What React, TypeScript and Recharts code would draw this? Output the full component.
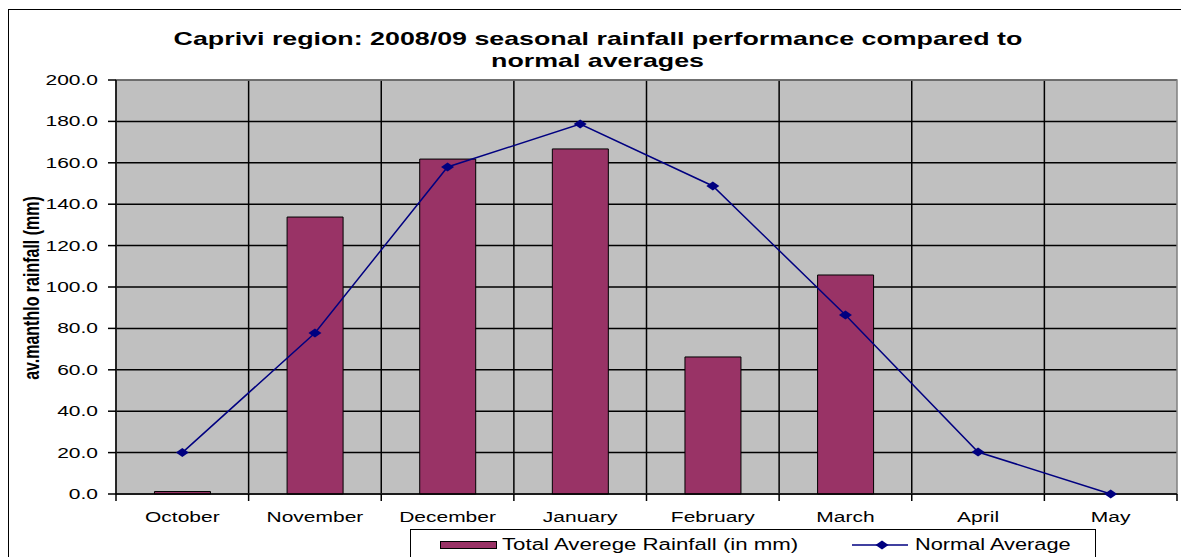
import React from 'react';
import { ComposedChart, Bar, Line, XAxis, YAxis, CartesianGrid, ReferenceArea } from 'recharts';

// Caprivi region rainfall, 2008/09 season
const months = ['October', 'November', 'December', 'January', 'February', 'March', 'April', 'May'];
const totalRain = [1.2, 133.8, 161.8, 166.7, 66.2, 105.8, null, null];
const normalAvg = [20.0, 77.8, 158.0, 178.7, 148.8, 86.5, 20.3, 0];
const yTicks = [0, 20, 40, 60, 80, 100, 120, 140, 160, 180, 200];

const data = months.map((m, i) => ({ month: m, total: totalRain[i], normal: normalAvg[i] }));

const FONT = '"Liberation Sans", Arial, sans-serif';
const STRETCH = 1.4; // the source image is stretched horizontally, text looks wide
const BAR = '#993366';
const NAVY = '#000080';

const W = 1173;
const H = 549;
const M = { top: 72, right: 4, left: 0, bottom: 33 };
const Y_W = 108;
const X_H = 30;
const PLOT_BOTTOM = H - M.bottom - X_H;
const BAND = (W - M.right - M.left - Y_W) / months.length;

const XTick = (props: any) => {
  const { x, payload, index } = props;
  const half = BAND / 2;
  return (
    <g>
      <line x1={x - half} x2={x - half} y1={PLOT_BOTTOM} y2={PLOT_BOTTOM + 7} stroke="#000" strokeWidth={1.5} />
      {index === months.length - 1 && (
        <line x1={x + half} x2={x + half} y1={PLOT_BOTTOM} y2={PLOT_BOTTOM + 7} stroke="#000" strokeWidth={1.5} />
      )}
      <text
        transform={`translate(${x},${PLOT_BOTTOM + 28}) scale(${STRETCH},1)`}
        textAnchor="middle"
        fontSize={15}
        fontFamily={FONT}
        fill="#000"
      >
        {payload.value}
      </text>
    </g>
  );
};

const YTick = (props: any) => {
  const { x, y, payload } = props;
  return (
    <text
      transform={`translate(${x},${y}) scale(${STRETCH},1)`}
      textAnchor="end"
      dy={5}
      fontSize={15}
      fontFamily={FONT}
      fill="#000"
    >
      {Number(payload.value).toFixed(1)}
    </text>
  );
};

const Diamond = (props: any) => {
  const { cx, cy, index } = props;
  if (cx == null || cy == null) return <g key={index} />;
  return (
    <polygon
      key={index}
      points={`${cx},${cy - 4.5} ${cx + 6.5},${cy} ${cx},${cy + 4.5} ${cx - 6.5},${cy}`}
      fill={NAVY}
    />
  );
};

const wide = (origin: string, k = STRETCH): React.CSSProperties => ({
  display: 'inline-block',
  transform: `scaleX(${k})`,
  transformOrigin: origin,
  whiteSpace: 'nowrap',
});

const titleRow: React.CSSProperties = {
  position: 'absolute', left: 0, width: 1180, textAlign: 'center', fontSize: 19, fontWeight: 700, lineHeight: '22px',
};

export default function App() {
  return (
    // fixed to the viewport so nothing scrolls; the frame runs off the right/bottom edge like the source
    <div style={{ position: 'fixed', left: 0, top: 0, width: 1181, height: 557, overflow: 'hidden', background: '#fff' }}>
      <div style={{ position: 'absolute', left: 8, top: 8, width: W, height: H, fontFamily: FONT }}>
        <div
          style={{
            position: 'absolute', left: 0, top: 1, width: 1200, height: 600,
            borderTop: '1.5px solid #000', borderLeft: '1.5px solid #000',
          }}
        />

        <div style={{ ...titleRow, top: 20 }}>
          <span style={wide('center', 1.41)}>Caprivi region: 2008/09 seasonal rainfall performance compared to</span>
        </div>
        <div style={{ ...titleRow, top: 42 }}>
          <span style={wide('center', 1.41)}>normal averages</span>
        </div>

        <div
          style={{
            position: 'absolute', left: 24, top: 280, fontSize: 16, fontWeight: 700, whiteSpace: 'nowrap',
            transform: `translate(-50%,-50%) scaleX(${STRETCH}) rotate(-90deg)`,
          }}
        >
          av.manthlo rainfall (mm)
        </div>

        <div style={{ position: 'absolute', left: 0, top: 0 }}>
          <ComposedChart width={W} height={H} data={data} margin={M} barCategoryGap="29%">
            <CartesianGrid
              stroke="#000"
              strokeWidth={1.5}
              fill="#C0C0C0"
              fillOpacity={1}
              verticalCoordinatesGenerator={({ offset }: any) =>
                [1, 2, 3, 4, 5, 6, 7].map(i => offset.left + (i * offset.width) / months.length)
              }
            />
            <ReferenceArea y1={0} y2={200} fill="none" fillOpacity={0} stroke="#808080" strokeWidth={1.5} />
            <XAxis
              dataKey="month"
              height={X_H}
              tick={<XTick />}
              tickLine={false}
              axisLine={{ stroke: '#000', strokeWidth: 1.5 }}
              interval={0}
            />
            <YAxis
              width={Y_W}
              domain={[0, 200]}
              ticks={yTicks}
              tick={<YTick />}
              tickSize={8}
              tickMargin={10}
              tickLine={{ stroke: '#000', strokeWidth: 1.5 }}
              axisLine={{ stroke: '#000', strokeWidth: 1.5 }}
            />
            <Bar dataKey="total" fill={BAR} stroke="#000" strokeWidth={1} isAnimationActive={false} />
            <Line
              dataKey="normal"
              type="linear"
              stroke={NAVY}
              strokeWidth={1.5}
              dot={Diamond}
              activeDot={false}
              isAnimationActive={false}
            />
          </ComposedChart>
        </div>

        <div
          style={{
            position: 'absolute', left: 402, top: 521, width: 686, height: 60, border: '1.5px solid #000',
            background: '#fff', boxSizing: 'border-box', fontSize: 16,
          }}
        >
          <div style={{ position: 'absolute', left: 29, top: 11, width: 57, height: 8, background: BAR, border: '1px solid #000', boxSizing: 'border-box' }} />
          <div style={{ position: 'absolute', left: 91, top: 5, lineHeight: '19px' }}>
            <span style={wide('left center', 1.39)}>Total Averege Rainfall (in mm)</span>
          </div>
          <svg style={{ position: 'absolute', left: 441, top: 9 }} width={56} height={12}>
            <line x1={0} x2={56} y1={6} y2={6} stroke={NAVY} strokeWidth={1.5} />
            <polygon points="30,1.5 36.5,6 30,10.5 23.5,6" fill={NAVY} />
          </svg>
          <div style={{ position: 'absolute', left: 504, top: 5, lineHeight: '19px' }}>
            <span style={wide('left center', 1.36)}>Normal Average</span>
          </div>
        </div>
      </div>
    </div>
  );
}
